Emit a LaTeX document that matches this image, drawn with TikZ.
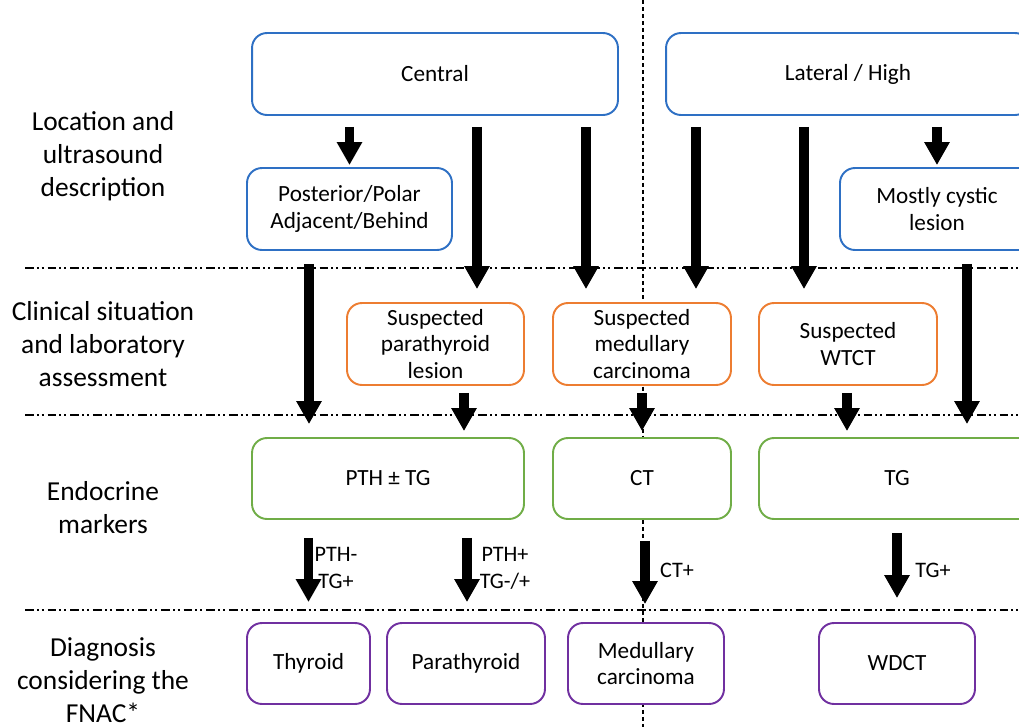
\documentclass[tikz,border=0pt]{standalone}
\usepackage{fontspec}
\setmainfont{Carlito}
\usetikzlibrary{arrows.meta}

\definecolor{locblue}{RGB}{46,112,196}
\definecolor{sitorange}{RGB}{237,125,49}
\definecolor{markgreen}{RGB}{112,173,71}
\definecolor{diagpurple}{RGB}{112,48,160}

\tikzset{
  box/.style={draw, fill=white, rounded corners=8.5pt, line width=1.1pt, align=center, inner sep=1pt, minimum height=1.64cm, font=\fontsize{13.2}{15.3}\selectfont},
  locbox/.style={box, draw=locblue},
  sitbox/.style={box, draw=sitorange},
  markbox/.style={box, draw=markgreen, minimum height=1.62cm},
  diagbox/.style={box, draw=diagpurple, minimum height=1.62cm},
  rowlabel/.style={align=center, font=\fontsize{15.6}{18.7}\selectfont},
  result/.style={align=center, inner sep=0pt, font=\fontsize{12.6}{15.3}\selectfont},
  flow/.style={line width=5.6pt, -{Triangle[width=13.6pt,length=13pt]}},
  rowsep/.style={line width=0.7pt, dash pattern=on 5pt off 1.7pt on 1.1pt off 1.7pt on 1.1pt off 2.3pt},
  colsep/.style={line width=0.6pt, dash pattern=on 2.3pt off 1.7pt}
}

\begin{document}
\begin{tikzpicture}[x=0.02cm, y=-0.02cm]

\clip (0,0) rectangle (1019,727); % picture frame

\draw[colsep] (643,0) -- (643,727); % central / lateral split

% row separators
\draw[rowsep] (25,268) -- (1019,268);
\draw[rowsep] (25,415) -- (1019,415);
\draw[rowsep] (25,610) -- (1019,610);

% row titles
\node[rowlabel] (rowloc) at (103,156) {Location and\\ultrasound\\description};
\node[rowlabel] (rowclin) at (103,344) {Clinical situation\\and laboratory\\assessment};
\node[rowlabel] (rowmark) at (103,508) {Endocrine\\markers};
\node[rowlabel] (rowdiag) at (103,680) {Diagnosis\\considering the\\FNAC*};

% location and ultrasound
\node[locbox, minimum width=7.32cm] (central) at (435,74) {Central};
\node[locbox, minimum width=7.28cm] (lateral) at (848,74) {Lateral / High};
\node[locbox, minimum width=4.1cm] (posterior) at (349.5,209) {Posterior/Polar\\Adjacent/Behind};
\node[locbox, minimum width=3.88cm] (cystic) at (937,209) {Mostly cystic\\lesion};

% clinical situation
\node[sitbox, minimum width=3.54cm] (suspara) at (435.5,344) {Suspected\\parathyroid\\lesion};
\node[sitbox, minimum width=3.56cm] (susmed) at (642,344) {Suspected\\medullary\\carcinoma};
\node[sitbox, minimum width=3.56cm] (suswtct) at (848,344) {Suspected\\WTCT};

% endocrine markers
\node[markbox, minimum width=5.44cm] (pthtg) at (388,478.5) {PTH ± TG};
\node[markbox, minimum width=3.56cm] (ct) at (642,478.5) {CT};
\node[markbox, minimum width=5.52cm] (tg) at (897,478.5) {TG};

% diagnosis
\node[diagbox, minimum width=2.46cm] (thyroid) at (308.5,663.5) {Thyroid};
\node[diagbox, minimum width=3.16cm] (parathyroid) at (466,663.5) {Parathyroid};
\node[diagbox, minimum width=3.12cm] (medcarc) at (646,663.5) {Medullary\\carcinoma};
\node[diagbox, minimum width=3.12cm] (wdct) at (897,663.5) {WDCT};

% arrows from location
\draw[flow, shorten <=0.22cm, shorten >=0.04cm] (central.south -| posterior.north) -- (posterior.north);
\draw[flow, shorten <=0.22cm, shorten >=0.26cm] (central.south -| 477,0) -- (suspara.north -| 477,0);
\draw[flow, shorten <=0.22cm, shorten >=0.26cm] (central.south -| 586,0) -- (susmed.north -| 586,0);
\draw[flow, shorten <=0.22cm, shorten >=0.26cm] (lateral.south -| 696,0) -- (susmed.north -| 696,0);
\draw[flow, shorten <=0.22cm, shorten >=0.26cm] (lateral.south -| 804,0) -- (suswtct.north -| 804,0);
\draw[flow, shorten <=0.22cm, shorten >=0.04cm] (lateral.south -| cystic.north) -- (cystic.north);
\draw[flow, shorten <=0.26cm, shorten >=0.26cm] (posterior.south -| 309,0) -- (pthtg.north -| 309,0);
\draw[flow, shorten <=0.26cm, shorten >=0.26cm] (cystic.south -| 967,0) -- (tg.north -| 967,0);

% arrows from clinical situation
\draw[flow, shorten <=0.14cm, shorten >=0.12cm] (suspara.south -| 464,0) -- (pthtg.north -| 464,0);
\draw[flow, shorten <=0.14cm, shorten >=0.12cm] (susmed.south) -- (ct.north);
\draw[flow, shorten <=0.14cm, shorten >=0.12cm] (suswtct.south -| 847,0) -- (tg.north -| 847,0);

% arrows to diagnosis
\draw[flow, shorten <=0.36cm, shorten >=0.4cm] (pthtg.south -| thyroid.north) -- (thyroid.north);
\draw[flow, shorten <=0.36cm, shorten >=0.4cm] (pthtg.south -| 467,0) -- (parathyroid.north -| 467,0);
\draw[flow, shorten <=0.42cm, shorten >=0.36cm] (ct.south -| 645,0) -- (medcarc.north -| 645,0);
\draw[flow, shorten <=0.26cm, shorten >=0.48cm] (tg.south) -- (wdct.north);

% marker results
\node[result] (resthy) at (336,568) {PTH-\\TG+};
\node[result] (respara) at (505,568) {PTH+\\TG-/+};
\node[result] (resct) at (677,570) {CT+};
\node[result] (restg) at (933,570) {TG+};

\end{tikzpicture}
\end{document}
